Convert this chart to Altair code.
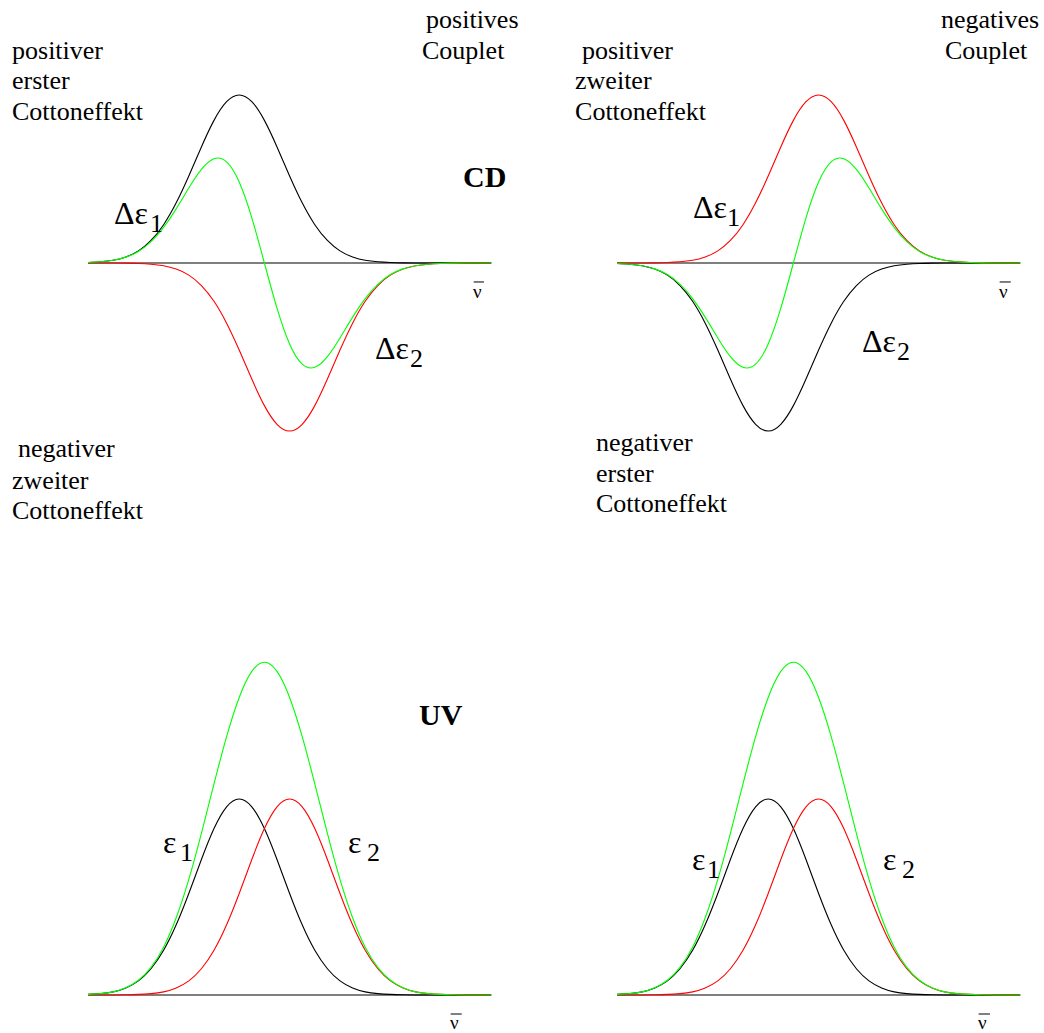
import altair as alt
import pandas as pd

# Wavenumber grid (arbitrary units); the drawn axis runs from 0 to 32
nu = list(range(33))

# Band profiles of the two coupled transitions (relative intensity)
band1 = [0.003, 0.007, 0.016, 0.036, 0.072, 0.134, 0.228, 0.358, 0.518, 0.691,
         0.849, 0.960, 1.000, 0.960, 0.849, 0.691, 0.518, 0.358, 0.228, 0.134,
         0.072, 0.036, 0.016, 0.007, 0.003, 0.001, 0, 0, 0, 0, 0, 0, 0]
band2 = [0, 0, 0, 0.001, 0.003, 0.007, 0.016, 0.036, 0.072, 0.134,
         0.228, 0.358, 0.518, 0.691, 0.849, 0.960, 1.000, 0.960, 0.849, 0.691,
         0.518, 0.358, 0.228, 0.134, 0.072, 0.036, 0.016, 0.007, 0.003, 0.001,
         0, 0, 0]

# Sign of the first / second Cotton effect in each CD panel
cd_signs = {"pos": (1, -1), "neg": (-1, 1)}

# Label tables: (text, x, y)
tl_text = [("positiver", -6.03, 1.214), ("erster", -6.03, 1.033), ("Cottoneffekt", -6.03, 0.854),
           ("positives", 26.83, 1.399), ("Couplet", 26.51, 1.214),
           ("negativer", -5.56, -1.155), ("zweiter", -6.03, -1.345), ("Cottoneffekt", -6.03, -1.524)]
tr_text = [("positiver", -2.78, 1.214), ("zweiter", -3.33, 1.033), ("Cottoneffekt", -3.33, 0.854),
           ("negatives", 25.71, 1.399), ("Couplet", 26.03, 1.214),
           ("negativer", -1.67, -1.119), ("erster", -1.67, -1.304), ("Cottoneffekt", -1.67, -1.482)]
tl_greek = [("Δε", 2.06, 0.232), ("Δε", 22.78, -0.571)]
tl_sub = [("1", 4.92, 0.185), ("2", 25.56, -0.619)]
tr_greek = [("Δε", 6.03, 0.268), ("Δε", 19.44, -0.530)]
tr_sub = [("1", 8.73, 0.220), ("2", 22.22, -0.577)]
bl_greek = [("ε", 5.95, 0.722), ("ε", 20.63, 0.722)]
bl_sub = [("1", 7.30, 0.684), ("2", 22.14, 0.684)]
br_greek = [("ε", 5.95, 0.638), ("ε", 21.11, 0.638)]
br_sub = [("1", 7.14, 0.597), ("2", 22.62, 0.597)]
titles = {"tl": [("CD", 29.76, 0.452)], "tr": [], "bl": [("UV", 26.27, 1.378)], "br": []}
# wavenumber symbol under the end of each axis: (x, y, overbar y, overbar end x)
nu_mark = {"tl": (30.56, -0.208, -0.113, 31.43), "tr": (30.32, -0.208, -0.113, 31.25),
           "bl": (28.73, -0.176, -0.097, 29.66), "br": (28.65, -0.176, -0.097, 29.60)}

FONT = "Liberation Serif"
W = 522
H_TOP, H_BOT = 516, 517
X_LEFT = [-6.984, 34.444]
X_RIGHT = [-7.540, 33.889]
Y_TOP = [-1.506, 1.5655]
Y_BOT = [-0.1939, 2.4439]


def curves(black, red):
    green = [b + r for b, r in zip(black, red)]
    return (pd.DataFrame({"nu": nu, "val": black}),
            pd.DataFrame({"nu": nu, "val": red}),
            pd.DataFrame({"nu": nu, "val": green}))


def text_df(rows):
    return pd.DataFrame(rows, columns=["label", "x", "y"])


def panel(black, red, xdom, ydom, height, plain, greek, sub, key):
    xs = alt.Scale(domain=xdom, nice=False, zero=False)
    ys = alt.Scale(domain=ydom, nice=False, zero=False)
    db, dr, dg = curves(black, red)

    axis_df = pd.DataFrame({"x0": [nu[0]], "x1": [nu[-1]], "y": [0]})
    baseline = alt.Chart(axis_df).mark_rule(color="black", strokeWidth=1.2).encode(
        x=alt.X("x0:Q", scale=xs, axis=None), x2="x1:Q",
        y=alt.Y("y:Q", scale=ys, axis=None))

    def line(df, color):
        return alt.Chart(df).mark_line(color=color, strokeWidth=1.1, interpolate="natural").encode(
            x=alt.X("nu:Q", scale=xs, axis=None), y=alt.Y("val:Q", scale=ys, axis=None))

    def txt(rows, size, weight="normal"):
        return alt.Chart(text_df(rows)).mark_text(
            align="left", baseline="alphabetic", font=FONT, fontSize=size,
            fontWeight=weight, color="black").encode(
            x=alt.X("x:Q", scale=xs, axis=None), y=alt.Y("y:Q", scale=ys, axis=None),
            text="label:N")

    nx, ny, by, bx2 = nu_mark[key]
    bar_df = pd.DataFrame({"x": [nx + 0.05], "x2": [bx2], "y": [by]})
    bar = alt.Chart(bar_df).mark_rule(color="black", strokeWidth=1).encode(
        x=alt.X("x:Q", scale=xs, axis=None), x2="x2:Q", y=alt.Y("y:Q", scale=ys, axis=None))

    layers = [baseline, line(db, "#000000"), line(dr, "#ff0000"), line(dg, "#00ff00"),
              txt(greek, 32), txt(sub, 26), txt([("ν", nx, ny)], 19), bar]
    if plain:
        layers.append(txt(plain, 26))
    if titles[key]:
        layers.append(txt(titles[key], 30, "bold"))
    return alt.layer(*layers).properties(width=W, height=height)


s1, s2 = cd_signs["pos"]
tl = panel([s1 * v for v in band1], [s2 * v for v in band2], X_LEFT, Y_TOP, H_TOP,
           tl_text, tl_greek, tl_sub, "tl")
s1, s2 = cd_signs["neg"]
tr = panel([s1 * v for v in band1], [s2 * v for v in band2], X_RIGHT, Y_TOP, H_TOP,
           tr_text, tr_greek, tr_sub, "tr")
bl = panel(band1, band2, X_LEFT, Y_BOT, H_BOT, [], bl_greek, bl_sub, "bl")
br = panel(band1, band2, X_RIGHT, Y_BOT, H_BOT, [], br_greek, br_sub, "br")

chart = alt.concat(
    tl, tr, bl, br, columns=2, spacing=0, bounds="flush",
).properties(padding=0).configure(background="white").configure_view(stroke=None)

chart.save("out.html", embed_options={"renderer": "svg", "actions": False})
